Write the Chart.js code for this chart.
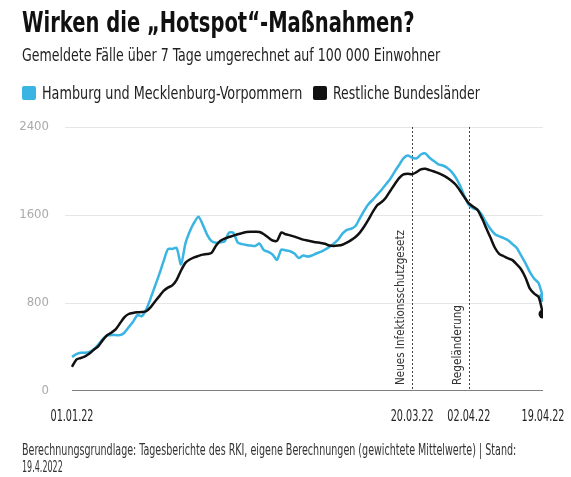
<!DOCTYPE html>
<html><head><meta charset="utf-8">
<script src="https://cdn.jsdelivr.net/npm/chart.js@4.4.0/dist/chart.umd.min.js"></script>
<style>
html,body{margin:0;padding:0;background:#fff;}
#wrap{position:relative;width:571px;height:477px;overflow:hidden;}
#c{position:absolute;left:0;top:0;}
.t{position:absolute;white-space:nowrap;transform-origin:0 0;font-family:"Liberation Sans Narrow","DejaVu Sans Condensed","Liberation Sans",Roboto,sans-serif;color:#222;}
.sq{position:absolute;width:14px;height:14px;border-radius:2px;}
</style></head>
<body><div id="wrap">
<canvas id="c" width="571" height="477"></canvas>
<div class="t" data-w="393" style="left:22px;top:6px;font-size:28px;line-height:34px;font-weight:bold;color:#111;">Wirken die „Hotspot“-Maßnahmen?</div>
<div class="t" data-w="418" style="left:22px;top:45px;font-size:17px;line-height:20px;">Gemeldete Fälle über 7 Tage umgerechnet auf 100 000 Einwohner</div>
<div class="sq" style="left:22px;top:86px;background:#3ab4e2;"></div>
<div class="t" data-w="260" style="left:42px;top:83px;font-size:17px;line-height:20px;">Hamburg und Mecklenburg-Vorpommern</div>
<div class="sq" style="left:313px;top:86px;background:#111;"></div>
<div class="t" data-w="147" style="left:333px;top:83px;font-size:17px;line-height:20px;">Restliche Bundesländer</div>
<div class="t" data-w="494" style="left:22px;top:442px;font-size:15px;line-height:17px;color:#333;">Berechnungsgrundlage: Tagesberichte des RKI, eigene Berechnungen (gewichtete Mittelwerte) | Stand:</div>
<div class="t" data-w="41" style="left:22px;top:459px;font-size:15px;line-height:17px;color:#333;">19.4.2022</div>
</div>
<script>
// Day index 0 = 01.01.22 ... 108 = 19.04.22
const hamburgMV = [310,335,348,348,355,380,420,470,505,508,508,508,530,580,630,690,680,740,840,950,
1060,1180,1290,1292,1300,1150,1340,1450,1530,1585,1510,1420,1362,1348,1352,1360,1440,1438,1350,1335,
1328,1322,1318,1340,1280,1265,1240,1192,1285,1278,1270,1250,1208,1232,1222,1232,1250,1265,1285,1310,
1340,1375,1430,1465,1475,1500,1570,1640,1700,1740,1785,1830,1880,1930,1995,2055,2115,2140,2120,2115,
2150,2160,2120,2090,2060,2050,2030,1995,1940,1865,1770,1690,1660,1648,1600,1530,1470,1425,1405,1390,
1370,1335,1300,1230,1160,1080,1020,980,850];
const restliche = [220,285,300,315,340,375,405,460,505,530,560,615,670,700,710,715,718,725,760,812,
860,910,940,960,1010,1095,1165,1195,1215,1228,1240,1245,1255,1320,1365,1385,1400,1412,1425,1435,
1445,1448,1447,1445,1425,1395,1368,1365,1440,1425,1415,1403,1390,1376,1368,1360,1352,1346,1338,1322,
1318,1322,1330,1348,1372,1400,1440,1495,1560,1630,1690,1718,1760,1820,1880,1935,1970,1975,1970,1990,
2015,2020,2008,1995,1980,1962,1940,1912,1875,1820,1760,1705,1675,1645,1570,1480,1390,1300,1245,1225,
1205,1190,1150,1105,1030,930,885,855,700];
const xTickDays = [0, 78, 91, 108];
const xTickLabels = ['01.01.22', '20.03.22', '02.04.22', '19.04.22'];
const yTicks = [0, 800, 1600, 2400];
const eventDays = [78, 91];
const eventLabels = ['Neues Infektionsschutzgesetz', 'Regeländerung'];
const eventLabelLen = [155, 80];

const FONT = '"Liberation Sans Narrow","DejaVu Sans Condensed","Liberation Sans",Roboto,sans-serif';

document.querySelectorAll('.t[data-w]').forEach(el => {
  const w = parseFloat(el.dataset.w);
  el.style.transform = 'scaleX(' + (w / el.offsetWidth) + ')';
});

const eventPlugin = {
  id: 'events',
  beforeDatasetsDraw(chart) {
    const {ctx, chartArea, scales: {x}} = chart;
    ctx.save();
    eventDays.forEach((d, i) => {
      const px = Math.round(x.getPixelForValue(d)) + 0.5;
      ctx.strokeStyle = '#444';
      ctx.lineWidth = 1;
      ctx.setLineDash([2, 2]);
      ctx.beginPath();
      ctx.moveTo(px, chartArea.top);
      ctx.lineTo(px, chartArea.bottom);
      ctx.stroke();
      ctx.setLineDash([]);
      ctx.save();
      ctx.translate(px - 12, chartArea.bottom - 6);
      ctx.rotate(-Math.PI / 2);
      ctx.font = '13px ' + FONT;
      const m = ctx.measureText(eventLabels[i]).width;
      ctx.scale(eventLabelLen[i] / m, 1);
      ctx.fillStyle = '#333';
      ctx.textAlign = 'left';
      ctx.textBaseline = 'middle';
      ctx.fillText(eventLabels[i], 0, 0);
      ctx.restore();
    });
    ctx.restore();
  },
  afterDraw(chart) {
    const {ctx, chartArea, scales: {x}} = chart;
    ctx.save();
    ctx.font = '16px ' + FONT;
    ctx.fillStyle = '#222';
    ctx.textAlign = 'center';
    ctx.textBaseline = 'middle';
    xTickDays.forEach((d, i) => {
      const px = x.getPixelForValue(d);
      const m = ctx.measureText(xTickLabels[i]).width;
      ctx.save();
      ctx.translate(px, chartArea.bottom + 26);
      ctx.scale(43 / m, 1);
      ctx.fillText(xTickLabels[i], 0, 0);
      ctx.restore();
    });
    ctx.restore();
  }
};

const lastIdx = (arr) => arr.length - 1;
new Chart(document.getElementById('c'), {
  type: 'line',
  data: {
    datasets: [
      {
        label: 'axis',
        data: [{x: 0, y: 0}, {x: lastIdx(restliche), y: 0}],
        borderColor: '#555', borderWidth: 1.5, pointRadius: 0, order: 0
      },
      {
        label: 'Restliche Bundesländer',
        data: restliche.map((v, i) => ({x: i, y: v})),
        borderColor: '#111', backgroundColor: '#111', borderWidth: 2.5,
        pointRadius: c => c.dataIndex === lastIdx(restliche) ? 4.5 : 0,
        pointBorderWidth: 0, tension: 0.25, order: 1
      },
      {
        label: 'Hamburg und Mecklenburg-Vorpommern',
        data: hamburgMV.map((v, i) => ({x: i, y: v})),
        borderColor: '#3ab4e2', backgroundColor: '#3ab4e2', borderWidth: 2.5,
        pointRadius: c => c.dataIndex === lastIdx(hamburgMV) ? 4.5 : 0,
        pointBorderWidth: 0, tension: 0.25, order: 2
      }
    ]
  },
  options: {
    responsive: false, animation: false,
    layout: {padding: {left: 0, right: 28, top: 127, bottom: 0}},
    plugins: {legend: {display: false}, tooltip: {enabled: false}},
    scales: {
      x: {
        type: 'linear', min: -1.605, max: 108,
        grid: {display: false}, border: {display: false},
        afterBuildTicks: s => { s.ticks = xTickDays.map(v => ({value: v})); },
        afterFit: s => { s.height = 86; s.paddingLeft = 0; s.paddingRight = 0; },
        ticks: {display: false}
      },
      y: {
        min: 0, max: 2400,
        afterBuildTicks: s => { s.ticks = yTicks.map(v => ({value: v})); },
        afterFit: s => { s.width = 65; s.paddingTop = 0; s.paddingBottom = 0; },
        grid: {color: c => c.tick && c.tick.value === 0 ? 'rgba(0,0,0,0)' : '#e6e6e6', drawTicks: false, lineWidth: 1},
        border: {display: false},
        ticks: {padding: 16, color: '#aaa', font: {size: 13, family: FONT}, callback: v => String(v)}
      }
    }
  },
  plugins: [eventPlugin]
});
</script>
</body></html>
